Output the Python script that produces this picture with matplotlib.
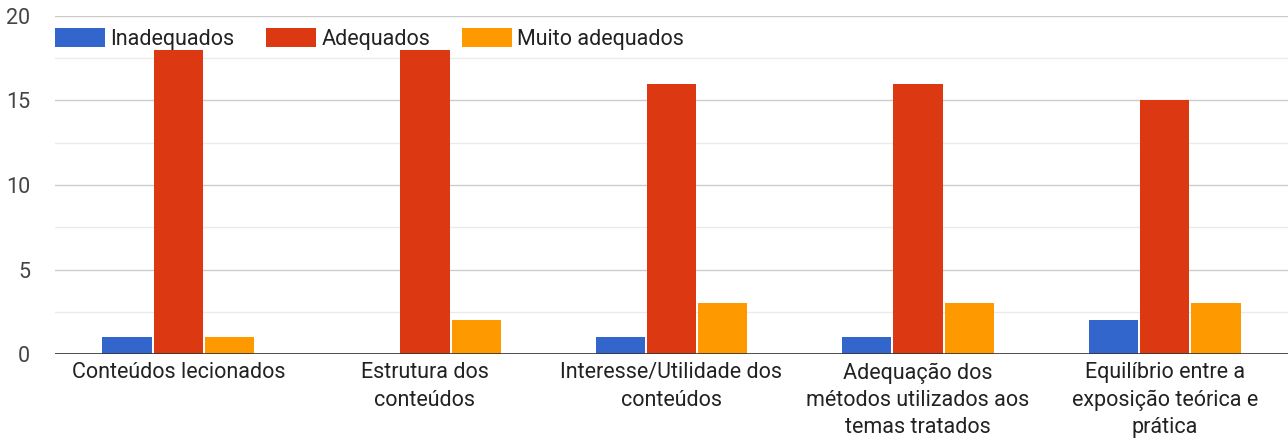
import numpy as np
import matplotlib.pyplot as plt

plt.rcParams['font.family'] = ['Roboto', 'DejaVu Sans']

categories = ['Conteúdos lecionados',
              'Estrutura dos\nconteúdos',
              'Interesse/Utilidade dos\nconteúdos',
              'Adequação dos\nmétodos utilizados aos\ntemas tratados',
              'Equilíbrio entre a\nexposição teórica e\nprática']
series_names = ['Inadequados', 'Adequados', 'Muito adequados']
inadequados = [1, 0, 1, 1, 2]
adequados = [18, 18, 16, 16, 15]
muito_adequados = [1, 2, 3, 3, 3]
yticks = [0, 5, 10, 15, 20]

COLORS = ['#3366cc', '#dc3912', '#ff9900']
BAR_WIDTH = 0.2
FONT_SIZE = 15.5

fig = plt.figure(figsize=(12.88, 4.41), dpi=100)
ax = fig.add_axes([55 / 1288, 1 - 354 / 441, 1 - 55 / 1288, 338 / 441])

x = np.arange(len(categories))
all_series = [inadequados, adequados, muito_adequados]
for i, (vals, name, col) in enumerate(zip(all_series, series_names, COLORS)):
    ax.bar(x + (i - 1) * (BAR_WIDTH + 0.008), vals, width=BAR_WIDTH,
           color=col, label=name, zorder=3)

ax.set_xlim(-0.5, len(categories) - 0.5)
ax.set_ylim(0, 20)
ax.set_yticks(yticks)
ax.set_yticks([2.5, 7.5, 12.5, 17.5], minor=True)
ax.set_xticks(x)
ax.set_xticklabels(categories, fontsize=FONT_SIZE, color='#222222',
                   linespacing=1.4)
ax.tick_params(axis='y', length=0, pad=18, labelsize=FONT_SIZE,
               labelcolor='#444444')
ax.tick_params(axis='y', which='minor', length=0)
ax.tick_params(axis='x', length=0, pad=6)

ax.grid(axis='y', which='major', color='#cccccc', linewidth=1, zorder=0)
ax.grid(axis='y', which='minor', color='#ebebeb', linewidth=1, zorder=0)
ax.axhline(0, color='#333333', linewidth=1.2, zorder=4)

for side in ['top', 'right', 'left', 'bottom']:
    ax.spines[side].set_visible(False)

ax.legend(loc='center left', bbox_to_anchor=(0, 0.932), ncol=3,
          frameon=False, fontsize=FONT_SIZE, handlelength=2.3,
          handleheight=0.95, handletextpad=0.25, columnspacing=1.5,
          borderpad=0, borderaxespad=0, labelcolor='#222222')

fig.savefig('out.png', dpi=100)
